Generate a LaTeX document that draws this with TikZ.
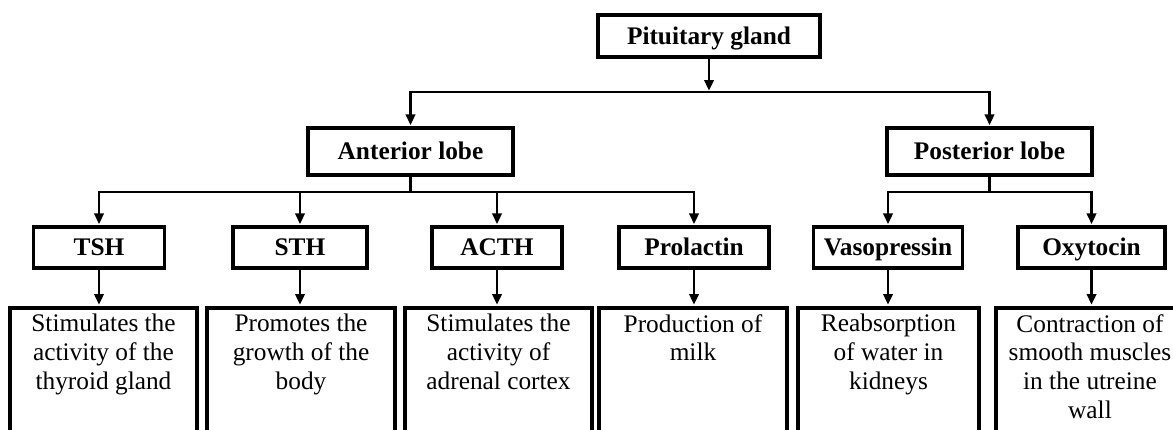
\documentclass[tikz,border=0pt]{standalone}
\usepackage{fontspec}
\setmainfont{Liberation Serif}
\usetikzlibrary{arrows.meta}
\tikzset{
  lab/.style={draw, line width=2.3pt, inner sep=0pt, text height=13pt, text depth=0.4pt, font=\bfseries\fontsize{19}{22}\selectfont},
  desc/.style={draw, line width=2.8pt, anchor=north, inner sep=0pt, minimum height={140*0.75pt}},
  txt/.style={anchor=north, align=center, inner sep=0pt, font=\fontsize{19}{21.5}\selectfont},
  conn/.style={line width=2.1pt, line join=miter},
  arr/.style={conn, -{Triangle[length=8pt,width=7pt]}, shorten >=1pt}
}
\begin{document}
\begin{tikzpicture}[x=0.75pt,y=-0.75pt]
\path[use as bounding box] (0,0) rectangle (1173,429);
\clip (0,0) rectangle (1173,429);
% top level
\node[lab, minimum width={222*0.75pt}, minimum height={42*0.75pt}] (pit) at (709,36) {Pituitary gland};
\node[lab, minimum width={205*0.75pt}, minimum height={47*0.75pt}] (ant) at (410.5,151.5) {Anterior lobe};
\node[lab, minimum width={205*0.75pt}, minimum height={47*0.75pt}] (pos) at (989.5,151.5) {Posterior lobe};
% hormones
\node[lab, minimum width={131*0.75pt}, minimum height={41*0.75pt}] (tsh) at (99,247.5) {TSH};
\node[lab, minimum width={134*0.75pt}, minimum height={41*0.75pt}] (sth) at (300,247.5) {STH};
\node[lab, minimum width={130*0.75pt}, minimum height={41*0.75pt}] (acth) at (497,247.5) {ACTH};
\node[lab, minimum width={150*0.75pt}, minimum height={41*0.75pt}] (pro) at (694,247.5) {Prolactin};
\node[lab, minimum width={149*0.75pt}, minimum height={41*0.75pt}] (vas) at (888,247.5) {Vasopressin};
\node[lab, minimum width={147*0.75pt}, minimum height={41*0.75pt}] (oxy) at (1091.5,247.5) {Oxytocin};
% description boxes
\node[desc, minimum width={187*0.75pt}] (d1) at (103.5,306) {};
\node[desc, minimum width={188*0.75pt}] (d2) at (301,306) {};
\node[desc, minimum width={187*0.75pt}] (d3) at (498.5,306) {};
\node[desc, minimum width={188*0.75pt}] (d4) at (693,306) {};
\node[desc, minimum width={181*0.75pt}] (d5) at (888.5,306) {};
\node[desc, minimum width={188*0.75pt}] (d6) at (1090,306) {};
\node[txt] (t1) at ([yshift=-6pt]d1.north) {Stimulates the\\activity of the\\thyroid gland};
\node[txt] (t2) at ([yshift=-6pt]d2.north) {Promotes the\\growth of the\\body};
\node[txt] (t3) at ([yshift=-6pt]d3.north) {Stimulates the\\activity of\\adrenal cortex};
\node[txt] (t4) at ([yshift=-6pt]d4.north) {Production of\\milk};
\node[txt] (t5) at ([yshift=-6pt]d5.north) {Reabsorption\\of water in\\kidneys};
\node[txt] (t6) at ([yshift=-6pt]d6.north) {Contraction of\\smooth muscles\\in the utreine\\wall};
% junctions
\coordinate (j1) at (709,92);
\coordinate (j2) at (410.5,192);
\coordinate (j3) at (989.5,192);
% connectors
\draw[arr] (pit.south) -- (j1);
\draw[arr] (j1) -| (ant.north);
\draw[arr] (j1) -| (pos.north);
\draw[conn] (ant.south) -- (j2);
\draw[arr] (j2) -| (tsh.north);
\draw[arr] (j2) -| (sth.north);
\draw[arr] (j2) -| (acth.north);
\draw[arr] (j2) -| (pro.north);
\draw[conn] (pos.south) -- (j3);
\draw[arr] (j3) -| (vas.north);
\draw[arr] (j3) -| (oxy.north);
\draw[arr] (tsh.south) -- (tsh.south |- d1.north);
\draw[arr] (sth.south) -- (sth.south |- d2.north);
\draw[arr] (acth.south) -- (acth.south |- d3.north);
\draw[arr] (pro.south) -- (pro.south |- d4.north);
\draw[arr] (vas.south) -- (vas.south |- d5.north);
\draw[arr] (oxy.south) -- (oxy.south |- d6.north);
\end{tikzpicture}
\end{document}
